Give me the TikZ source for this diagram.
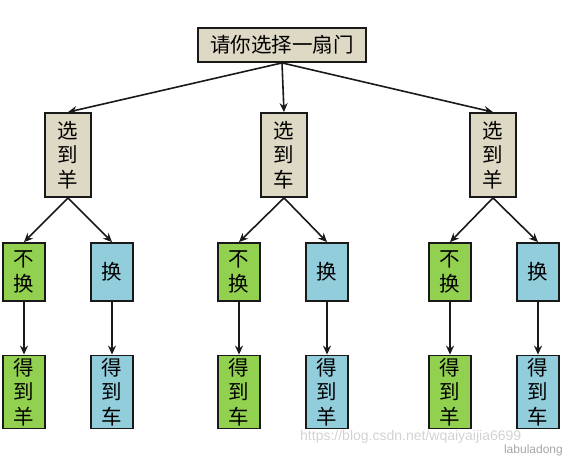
\documentclass[tikz,border=0pt]{standalone}
\usepackage{fontspec}
\newfontfamily\cjk{Noto Sans CJK SC}
\usetikzlibrary{arrows.meta}
\definecolor{tan}{HTML}{DDD9C4}
\definecolor{grn}{HTML}{92D050}
\definecolor{blu}{HTML}{92CDDC}
\tikzset{
  box/.style={draw=black!90, line width=1.8pt, inner sep=0pt, align=center, font=\cjk\fontsize{20.5}{24.5}\selectfont},
  top/.style={box, fill=tan, minimum width=168pt, minimum height=34pt},
  lvtwo/.style={box, fill=tan, minimum width=46pt, minimum height=84pt},
  lvthree/.style={box, minimum width=42pt, minimum height=58pt},
  lvfour/.style={box, minimum width=42pt, minimum height=73pt},
  arr/.style={line width=1.6pt, draw=black!90, -{Stealth[length=9pt,width=8pt,inset=3pt]}},
  wm/.style={text=gray!35, font=\fontspec{Liberation Sans}\fontsize{14}{14}\selectfont, inner sep=0pt}
}
\begin{document}
\begin{tikzpicture}[x=1pt,y=-1pt]
\useasboundingbox (0,0) rectangle (565,457);
\node[top] (t) at (282,45) {请你选择一扇门};
\node[lvtwo] (a) at (68,155) {选\\到\\羊};
\node[lvtwo] (b) at (284,155) {选\\到\\车};
\node[lvtwo] (c) at (493,155) {选\\到\\羊};
\node[lvthree, fill=grn] (a1) at (24,272) {不\\换};
\node[lvthree, fill=blu] (a2) at (112,272) {换};
\node[lvthree, fill=grn] (b1) at (239,272) {不\\换};
\node[lvthree, fill=blu] (b2) at (327,272) {换};
\node[lvthree, fill=grn] (c1) at (450,272) {不\\换};
\node[lvthree, fill=blu] (c2) at (538,272) {换};
\node[lvfour, fill=grn] (a3) at (24,392) {得\\到\\羊};
\node[lvfour, fill=blu] (a4) at (112,392) {得\\到\\车};
\node[lvfour, fill=grn] (b3) at (239,392) {得\\到\\车};
\node[lvfour, fill=blu] (b4) at (327,392) {得\\到\\羊};
\node[lvfour, fill=grn] (c3) at (450,392) {得\\到\\羊};
\node[lvfour, fill=blu] (c4) at (538,392) {得\\到\\车};
\foreach \p in {a,b,c}{
  \draw[arr] (t.south) -- (\p.north);
  \draw[arr] (\p.south) -- (\p1.north);
  \draw[arr] (\p.south) -- (\p2.north);
  \draw[arr] (\p1.south) -- (\p3.north);
  \draw[arr] (\p2.south) -- (\p4.north);
}
\node[wm, anchor=west] (w1) at (300,437) {https://blog.csdn.net/wqaiyaijia6699};
\node[wm, anchor=east, text=gray!70, font=\fontspec{Liberation Sans}\fontsize{12}{12}\selectfont] (w2) at (563,450) {labuladong};
\end{tikzpicture}
\end{document}
